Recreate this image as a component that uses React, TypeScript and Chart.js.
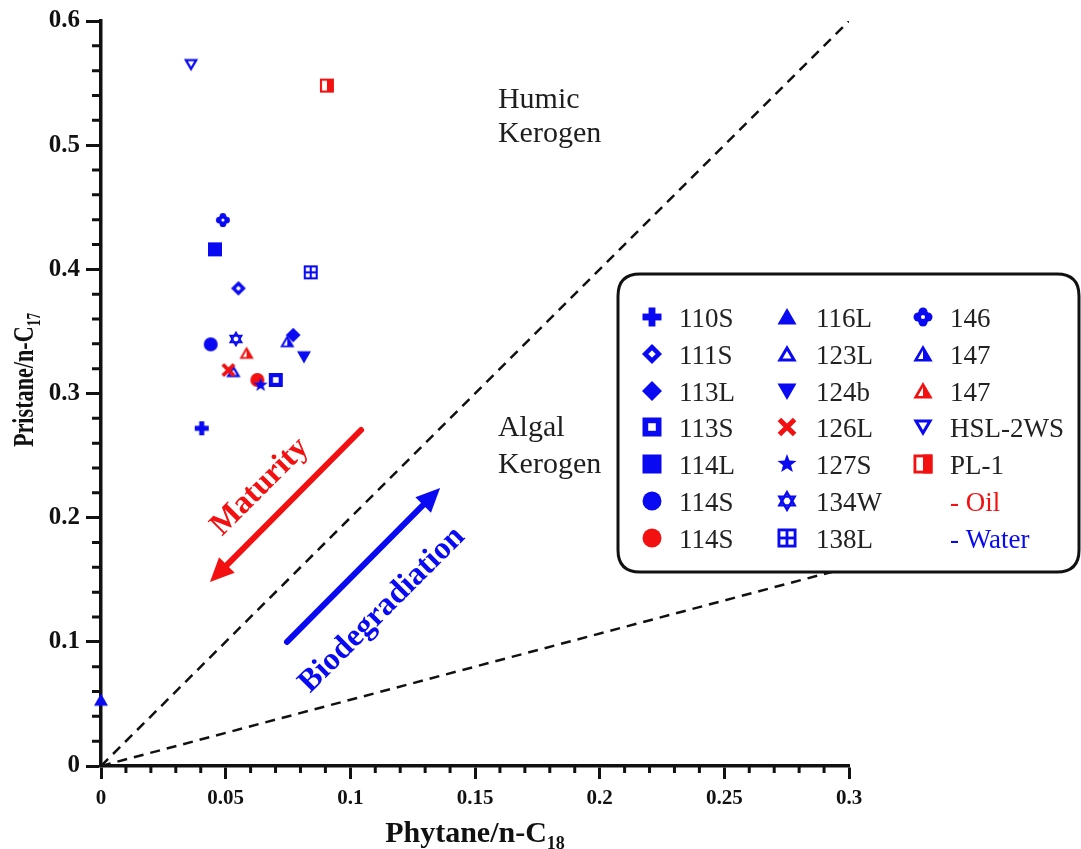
import React, { useEffect, useRef } from "react";
import { Chart, registerables } from "chart.js";

Chart.register(...registerables);

// ---------- data ----------
const sampleNames = ["110S", "111S", "113L", "113S", "114L", "114S", "114S", "116L", "123L", "124b", "126L", "127S", "134W", "138L", "146", "147", "147", "HSL-2WS", "PL-1"];
const sampleMarkers = ["plus", "diamondOpen", "diamond", "squareOpen", "square", "circle", "circle", "triUp", "triUpOpen", "triDown", "x", "star", "david", "gridSquare", "flower", "triHalf", "triHalf", "triDownOpen", "squareHalf"];
const sampleKinds = ["water", "water", "water", "water", "water", "water", "oil", "water", "water", "water", "oil", "water", "water", "water", "water", "water", "oil", "water", "oil"];
const phytaneValues = [0.0404, 0.0551, 0.0771, 0.0701, 0.0457, 0.044, 0.0627, 0.0, 0.0531, 0.0814, 0.0511, 0.064, 0.0541, 0.0841, 0.0489, 0.0747, 0.0584, 0.0361, 0.0906];
const pristaneValues = [0.272, 0.3847, 0.3471, 0.3109, 0.4161, 0.3396, 0.3109, 0.053, 0.3176, 0.3296, 0.3189, 0.3068, 0.3439, 0.3976, 0.4397, 0.3417, 0.3324, 0.565, 0.548];

const xTickValues = [0, 0.05, 0.1, 0.15, 0.2, 0.25, 0.3];
const xTickLabels = ["0", "0.05", "0.1", "0.15", "0.2", "0.25", "0.3"];
const yTickValues = [0, 0.1, 0.2, 0.3, 0.4, 0.5, 0.6];
const yTickLabels = ["0", "0.1", "0.2", "0.3", "0.4", "0.5", "0.6"];

const humicLine = [{ x: 0, y: 0 }, { x: 0.3, y: 0.6 }];
const algalLine = [{ x: 0, y: 0 }, { x: 0.3, y: 0.16 }];

const maturityArrow = { from: [0.1043, 0.2706], to: [0.0437, 0.1482] };
const bioArrow = { from: [0.0746, 0.0999], to: [0.136, 0.2239] };
const maturityLabel = { text: "Maturity", at: [0.0638, 0.2247] };
const bioLabel = { text: "Biodegradiation", at: [0.1127, 0.1256] };
const regionLabels = [
  { text: "Humic", at: [0.1592, 0.5299] },
  { text: "Kerogen", at: [0.1592, 0.5025] },
  { text: "Algal", at: [0.1592, 0.2658] },
  { text: "Kerogen", at: [0.1592, 0.236] },
];

const BLUE = "#0a0af2";
const RED = "#f21010";
const SERIF = "'Liberation Serif', 'Times New Roman', serif";

function kindColor(k: string) {
  return k === "oil" ? RED : BLUE;
}

// ---------- marker drawing ----------
function drawMarker(ctx: CanvasRenderingContext2D, type: string, cx: number, cy: number, s: number, color: string) {
  const h = s / 2;
  ctx.save();
  ctx.fillStyle = color;
  ctx.strokeStyle = color;
  ctx.lineJoin = "miter";
  const triTop = cy - h * 0.95;
  const triBase = cy + h * 0.8;
  const tdTop = cy + h * 0.95;
  const tdBase = cy - h * 0.8;
  switch (type) {
    case "plus": {
      const t = s * 0.36;
      ctx.fillRect(cx - h, cy - t / 2, s, t);
      ctx.fillRect(cx - t / 2, cy - h, t, s);
      break;
    }
    case "diamond": {
      ctx.beginPath();
      ctx.moveTo(cx, cy - h * 1.05);
      ctx.lineTo(cx + h * 1.05, cy);
      ctx.lineTo(cx, cy + h * 1.05);
      ctx.lineTo(cx - h * 1.05, cy);
      ctx.closePath();
      ctx.fill();
      break;
    }
    case "diamondOpen": {
      const lw = s * 0.24;
      const r = h * 1.05 - lw * 0.7;
      ctx.lineWidth = lw;
      ctx.beginPath();
      ctx.moveTo(cx, cy - r);
      ctx.lineTo(cx + r, cy);
      ctx.lineTo(cx, cy + r);
      ctx.lineTo(cx - r, cy);
      ctx.closePath();
      ctx.stroke();
      break;
    }
    case "square": {
      ctx.fillRect(cx - h, cy - h, s, s);
      break;
    }
    case "squareOpen": {
      const lw = s * 0.3;
      ctx.lineWidth = lw;
      ctx.strokeRect(cx - h + lw / 2, cy - h + lw / 2, s - lw, s - lw);
      break;
    }
    case "circle": {
      ctx.beginPath();
      ctx.arc(cx, cy, h, 0, Math.PI * 2);
      ctx.fill();
      break;
    }
    case "triUp": {
      ctx.beginPath();
      ctx.moveTo(cx, triTop);
      ctx.lineTo(cx + h, triBase);
      ctx.lineTo(cx - h, triBase);
      ctx.closePath();
      ctx.fill();
      break;
    }
    case "triUpOpen": {
      const lw = s * 0.16;
      ctx.lineWidth = lw;
      ctx.beginPath();
      ctx.moveTo(cx, triTop + lw);
      ctx.lineTo(cx + h - lw * 0.8, triBase - lw / 2);
      ctx.lineTo(cx - h + lw * 0.8, triBase - lw / 2);
      ctx.closePath();
      ctx.stroke();
      break;
    }
    case "triHalf": {
      const lw = s * 0.14;
      ctx.lineWidth = lw;
      ctx.beginPath();
      ctx.moveTo(cx, triTop + lw);
      ctx.lineTo(cx + h - lw * 0.8, triBase - lw / 2);
      ctx.lineTo(cx - h + lw * 0.8, triBase - lw / 2);
      ctx.closePath();
      ctx.stroke();
      ctx.beginPath();
      ctx.moveTo(cx, triTop + lw);
      ctx.lineTo(cx + h - lw * 0.8, triBase - lw / 2);
      ctx.lineTo(cx, triBase - lw / 2);
      ctx.closePath();
      ctx.fill();
      break;
    }
    case "triDown": {
      ctx.beginPath();
      ctx.moveTo(cx, tdTop);
      ctx.lineTo(cx + h, tdBase);
      ctx.lineTo(cx - h, tdBase);
      ctx.closePath();
      ctx.fill();
      break;
    }
    case "triDownOpen": {
      const lw = s * 0.16;
      ctx.lineWidth = lw;
      ctx.beginPath();
      ctx.moveTo(cx, tdTop - lw);
      ctx.lineTo(cx + h - lw * 0.8, tdBase + lw / 2);
      ctx.lineTo(cx - h + lw * 0.8, tdBase + lw / 2);
      ctx.closePath();
      ctx.stroke();
      break;
    }
    case "x": {
      const lw = s * 0.26;
      const r = h * 0.8;
      ctx.lineWidth = lw;
      ctx.beginPath();
      ctx.moveTo(cx - r, cy - r);
      ctx.lineTo(cx + r, cy + r);
      ctx.moveTo(cx + r, cy - r);
      ctx.lineTo(cx - r, cy + r);
      ctx.stroke();
      break;
    }
    case "star": {
      const ro = h * 1.05;
      const ri = ro * 0.42;
      ctx.beginPath();
      for (let i = 0; i < 10; i++) {
        const r = i % 2 === 0 ? ro : ri;
        const a = -Math.PI / 2 + (i * Math.PI) / 5;
        const px = cx + r * Math.cos(a);
        const py = cy + r * Math.sin(a);
        if (i === 0) ctx.moveTo(px, py);
        else ctx.lineTo(px, py);
      }
      ctx.closePath();
      ctx.fill();
      break;
    }
    case "david": {
      const lw = s * 0.13;
      const r = h * 0.92;
      ctx.lineWidth = lw;
      for (const off of [-Math.PI / 2, Math.PI / 2]) {
        ctx.beginPath();
        for (let i = 0; i < 3; i++) {
          const a = off + (i * 2 * Math.PI) / 3;
          const px = cx + r * Math.cos(a);
          const py = cy + r * Math.sin(a);
          if (i === 0) ctx.moveTo(px, py);
          else ctx.lineTo(px, py);
        }
        ctx.closePath();
        ctx.stroke();
      }
      break;
    }
    case "gridSquare": {
      ctx.fillRect(cx - h, cy - h, s, s);
      const lw = s * 0.15;
      const q = (s - 3 * lw) / 2;
      ctx.fillStyle = "#fff";
      ctx.fillRect(cx - h + lw, cy - h + lw, q, q);
      ctx.fillRect(cx + lw / 2, cy - h + lw, q, q);
      ctx.fillRect(cx - h + lw, cy + lw / 2, q, q);
      ctx.fillRect(cx + lw / 2, cy + lw / 2, q, q);
      break;
    }
    case "flower": {
      const r = s * 0.24;
      const d = s * 0.26;
      for (const [dx, dy] of [[d, 0], [-d, 0], [0, d], [0, -d]]) {
        ctx.beginPath();
        ctx.arc(cx + dx, cy + dy, r, 0, Math.PI * 2);
        ctx.fill();
      }
      ctx.fillRect(cx - d, cy - d, 2 * d, 2 * d);
      ctx.fillStyle = "#fff";
      ctx.beginPath();
      ctx.arc(cx, cy, s * 0.11, 0, Math.PI * 2);
      ctx.fill();
      break;
    }
    case "squareHalf": {
      const lw = s * 0.15;
      ctx.lineWidth = lw;
      ctx.strokeRect(cx - h + lw / 2, cy - h + lw / 2, s - lw, s - lw);
      ctx.fillRect(cx, cy - h, h, s);
      break;
    }
  }
  ctx.restore();
}

function markerImage(type: string, color: string, s: number) {
  const S = Math.ceil(s + 6);
  const c = document.createElement("canvas");
  c.width = S;
  c.height = S;
  const ctx = c.getContext("2d") as CanvasRenderingContext2D;
  drawMarker(ctx, type, S / 2, S / 2, s, color);
  return c;
}

// ---------- plugins ----------
function drawArrow(ctx: CanvasRenderingContext2D, x1: number, y1: number, x2: number, y2: number, color: string) {
  const ang = Math.atan2(y2 - y1, x2 - x1);
  const headLen = 24;
  const headW = 11;
  ctx.save();
  ctx.strokeStyle = color;
  ctx.fillStyle = color;
  ctx.lineWidth = 6;
  ctx.lineCap = "round";
  ctx.beginPath();
  ctx.moveTo(x1, y1);
  ctx.lineTo(x2 - Math.cos(ang) * (headLen - 4), y2 - Math.sin(ang) * (headLen - 4));
  ctx.stroke();
  ctx.translate(x2, y2);
  ctx.rotate(ang);
  ctx.beginPath();
  ctx.moveTo(0, 0);
  ctx.lineTo(-headLen, -headW);
  ctx.lineTo(-headLen, headW);
  ctx.closePath();
  ctx.fill();
  ctx.restore();
}

const decorPlugin = {
  id: "decor",
  afterDraw(chart: any) {
    const ctx: CanvasRenderingContext2D = chart.ctx;
    const xs = chart.scales.x;
    const ys = chart.scales.y;
    const area = chart.chartArea;
    const px = (v: number) => xs.getPixelForValue(v);
    const py = (v: number) => ys.getPixelForValue(v);

    // minor ticks
    ctx.save();
    ctx.strokeStyle = "#111";
    ctx.lineWidth = 3;
    ctx.beginPath();
    for (let k = 1; k < 30; k++) {
      if (k % 5 === 0) continue;
      const yy = py(k * 0.02);
      ctx.moveTo(area.left - 9, yy);
      ctx.lineTo(area.left, yy);
      const xx = px(k * 0.01);
      ctx.moveTo(xx, area.bottom);
      ctx.lineTo(xx, area.bottom + 7);
    }
    ctx.stroke();
    ctx.restore();

    // axis titles
    ctx.save();
    ctx.fillStyle = "#111";
    ctx.textBaseline = "alphabetic";
    const mainF = `bold 30px ${SERIF}`;
    const subF = `bold 18px ${SERIF}`;
    ctx.font = mainF;
    const xm = ctx.measureText("Phytane/n-C").width;
    ctx.font = subF;
    const xsw = ctx.measureText("18").width;
    const xStart = (area.left + area.right) / 2 - (xm + xsw) / 2;
    ctx.font = mainF;
    ctx.textAlign = "left";
    ctx.fillText("Phytane/n-C", xStart, 842);
    ctx.font = subF;
    ctx.fillText("18", xStart + xm, 849);

    ctx.translate(33, 380);
    ctx.rotate(-Math.PI / 2);
    ctx.scale(0.74, 1);
    ctx.font = mainF;
    const ym = ctx.measureText("Pristane/n-C").width;
    ctx.font = subF;
    const ysw = ctx.measureText("17").width;
    const yStart = -(ym + ysw) / 2;
    ctx.font = mainF;
    ctx.fillText("Pristane/n-C", yStart, 0);
    ctx.font = subF;
    ctx.fillText("17", yStart + ym, 7);
    ctx.restore();

    // region labels
    ctx.save();
    ctx.fillStyle = "#1e1e1e";
    ctx.font = `30px ${SERIF}`;
    ctx.textAlign = "left";
    ctx.textBaseline = "alphabetic";
    for (const r of regionLabels) ctx.fillText(r.text, px(r.at[0]), py(r.at[1]));
    ctx.restore();

    // arrows
    drawArrow(ctx, px(maturityArrow.from[0]), py(maturityArrow.from[1]), px(maturityArrow.to[0]), py(maturityArrow.to[1]), RED);
    drawArrow(ctx, px(bioArrow.from[0]), py(bioArrow.from[1]), px(bioArrow.to[0]), py(bioArrow.to[1]), BLUE);
    for (const [lab, col] of [[maturityLabel, RED], [bioLabel, BLUE]] as any) {
      ctx.save();
      ctx.translate(px(lab.at[0]), py(lab.at[1]));
      ctx.rotate(-Math.PI / 4);
      ctx.fillStyle = col;
      ctx.font = `bold 32px ${SERIF}`;
      ctx.textAlign = "center";
      ctx.textBaseline = "middle";
      ctx.fillText(lab.text, 0, 0);
      ctx.restore();
    }

    // legend box
    ctx.save();
    const bx = 618, by = 274, bw = 461, bh = 298, rr = 22;
    ctx.beginPath();
    ctx.moveTo(bx + rr, by);
    ctx.lineTo(bx + bw - rr, by);
    ctx.quadraticCurveTo(bx + bw, by, bx + bw, by + rr);
    ctx.lineTo(bx + bw, by + bh - rr);
    ctx.quadraticCurveTo(bx + bw, by + bh, bx + bw - rr, by + bh);
    ctx.lineTo(bx + rr, by + bh);
    ctx.quadraticCurveTo(bx, by + bh, bx, by + bh - rr);
    ctx.lineTo(bx, by + rr);
    ctx.quadraticCurveTo(bx, by, bx + rr, by);
    ctx.closePath();
    ctx.fillStyle = "#fff";
    ctx.fill();
    ctx.lineWidth = 3;
    ctx.strokeStyle = "#111";
    ctx.stroke();

    const colMarkerX = [652, 787, 923];
    const colTextX = [679, 816, 950];
    const rowBase = [327, 364, 401, 437, 474, 511, 548];
    ctx.font = `27px ${SERIF}`;
    ctx.textAlign = "left";
    ctx.textBaseline = "alphabetic";
    sampleNames.forEach((name, i) => {
      const col = Math.floor(i / 7);
      const row = i % 7;
      drawMarker(ctx, sampleMarkers[i], colMarkerX[col], rowBase[row] - 10, 19, kindColor(sampleKinds[i]));
      ctx.fillStyle = "#222";
      ctx.fillText(name, colTextX[col], rowBase[row]);
    });
    ctx.fillStyle = RED;
    ctx.fillText("- Oil", colTextX[2], rowBase[5]);
    ctx.fillStyle = BLUE;
    ctx.fillText("- Water", colTextX[2], rowBase[6]);
    ctx.restore();
  },
};

export default function App() {
  const ref = useRef<HTMLCanvasElement | null>(null);
  useEffect(() => {
    if (!ref.current) return;
    const images = sampleMarkers.map((m, i) => markerImage(m, kindColor(sampleKinds[i]), 14));
    const chart = new Chart(ref.current, {
      type: "scatter",
      data: {
        datasets: [
          {
            label: "samples",
            data: phytaneValues.map((x, i) => ({ x, y: pristaneValues[i] })),
            pointStyle: images as any,
            pointRadius: 7,
            clip: false as any,
            order: 0,
          },
          {
            type: "line",
            label: "humic",
            data: humicLine,
            borderColor: "#111",
            borderWidth: 2.5,
            borderDash: [10, 7],
            pointRadius: 0,
            fill: false,
            order: 2,
          } as any,
          {
            type: "line",
            label: "algal",
            data: algalLine,
            borderColor: "#111",
            borderWidth: 2.5,
            borderDash: [10, 7],
            pointRadius: 0,
            fill: false,
            order: 2,
          } as any,
        ],
      },
      options: {
        responsive: false,
        animation: false,
        devicePixelRatio: 1,
        layout: { padding: { left: 0, right: 232, top: 21, bottom: 0 } },
        plugins: { legend: { display: false }, tooltip: { enabled: false } },
        scales: {
          x: {
            type: "linear",
            min: 0,
            max: 0.3,
            afterFit: (s: any) => { s.height = 83; },
            afterBuildTicks: (s: any) => { s.ticks = xTickValues.map((v) => ({ value: v })); },
            ticks: {
              callback: (_v: any, i: number) => xTickLabels[i],
              font: { family: SERIF, size: 21, weight: "bold" as const },
              color: "#111",
              padding: 7,
              maxRotation: 0,
              autoSkip: false,
            },
            grid: { drawOnChartArea: false, tickLength: 13, tickWidth: 3, color: "#111" },
            border: { color: "#111", width: 3.5 },
          },
          y: {
            type: "linear",
            min: 0,
            max: 0.6,
            afterFit: (s: any) => { s.width = 101; },
            afterBuildTicks: (s: any) => { s.ticks = yTickValues.map((v) => ({ value: v })); },
            ticks: {
              callback: (_v: any, i: number) => yTickLabels[i],
              font: { family: SERIF, size: 25, weight: "bold" as const },
              color: "#111",
              padding: 6,
              autoSkip: false,
            },
            grid: { drawOnChartArea: false, tickLength: 15, tickWidth: 3, color: "#111" },
            border: { color: "#111", width: 3.5 },
          },
        },
      },
      plugins: [decorPlugin],
    });
    return () => chart.destroy();
  }, []);
  return (
    <div style={{ position: "absolute", left: 0, top: 0, width: 1081, height: 849, background: "#fff" }}>
      <canvas ref={ref} width={1081} height={849} style={{ display: "block" }} />
    </div>
  );
}
